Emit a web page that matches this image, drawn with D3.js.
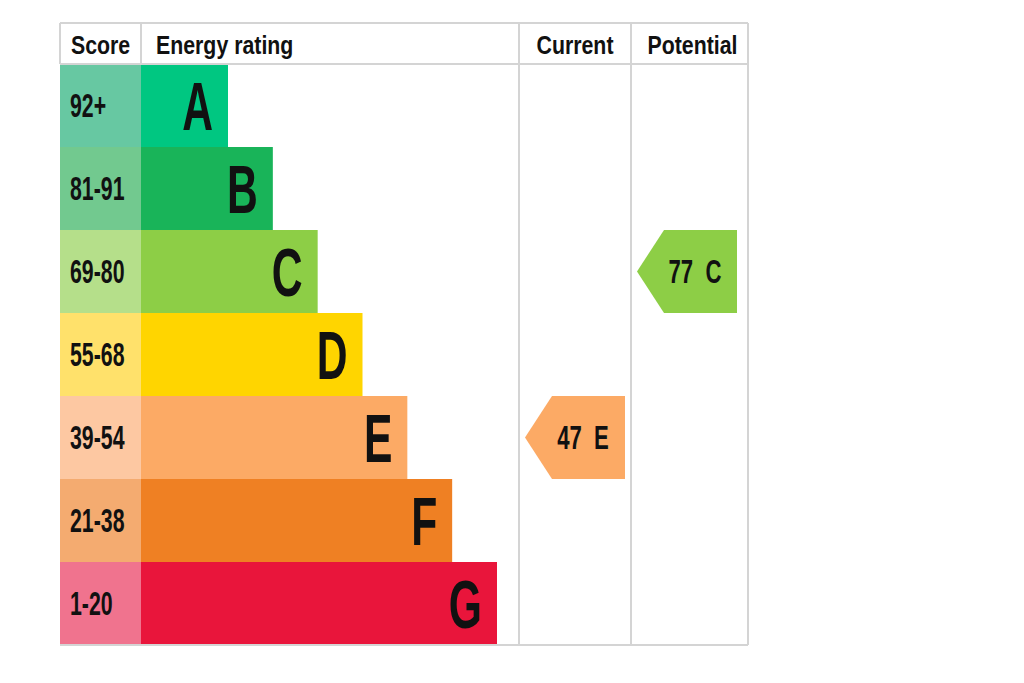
<!DOCTYPE html>
<html>
<head>
<meta charset="utf-8">
<script src="https://cdn.jsdelivr.net/npm/d3@7"></script>
<style>
    body { margin: 0; background: #fff; }
    #epc { width: 1024px; height: 683px; }
    text { font-family: "Liberation Sans", Arial, sans-serif; font-weight: bold; fill: #111; }
</style>
</head>
<body>
<div id="epc"></div>
<script>
// Bands, top to bottom
const ratings = ["A", "B", "C", "D", "E", "F", "G"];
const scoreRanges = ["92+", "81-91", "69-80", "55-68", "39-54", "21-38", "1-20"];
const bandMins = [92, 81, 69, 55, 39, 21, 1];
const headers = ["Score", "Energy rating", "Current", "Potential"];

const currentScore = 47;
const potentialScore = 77;

class EpcVis {
    constructor(_parentElement) {
        this.parentElement = _parentElement;
        this.initVis();
    }

    initVis() {
        const vis = this;

        vis.margin = { top: 23, left: 60 };
        vis.width = 688;
        vis.height = 622;
        vis.headerHeight = 41;
        vis.narrow = 0.82; // squeeze Liberation Sans to look like a narrow face

        vis.svg = d3.select(`#${vis.parentElement}`)
            .append("svg")
            .attr("width", 1024)
            .attr("height", 683)
            .append("g")
            .attr("transform", `translate(${vis.margin.left},${vis.margin.top})`);

        // column edges: score | rating bars | current | potential
        vis.cols = { score: 0, bars: 81, current: 459, potential: 571, end: vis.width };

        vis.y = d3.scaleBand()
            .domain(ratings)
            .range([vis.headerHeight, vis.height]);

        // bar length grows with band
        vis.barLen = d3.scalePoint()
            .domain(ratings)
            .range([87, 356]);

        vis.barColor = d3.scaleOrdinal()
            .domain(ratings)
            .range(["#00c781", "#19b459", "#8dce46", "#ffd500", "#fcaa65", "#ef8023", "#e9153b"]);

        vis.scoreColor = d3.scaleOrdinal()
            .domain(ratings)
            .range(["#67c8a2", "#72c98f", "#b5df8a", "#ffe16b", "#fdc8a2", "#f4ab70", "#f0738e"]);

        vis.updateVis();
    }

    bandFor(score) {
        const i = bandMins.findIndex(m => score >= m);
        return ratings[i];
    }

    updateVis() {
        const vis = this;
        const bw = vis.y.bandwidth();
        const lineColor = "#d4d4d4";
        const sx = vis.narrow;

        // score cells
        vis.svg.selectAll(".score-cell")
            .data(ratings)
            .join("rect")
            .attr("class", "score-cell")
            .attr("x", vis.cols.score)
            .attr("y", d => vis.y(d))
            .attr("width", vis.cols.bars - vis.cols.score)
            .attr("height", bw + 0.5)
            .attr("fill", d => vis.scoreColor(d));

        vis.svg.selectAll(".score-label")
            .data(ratings)
            .join("text")
            .attr("class", "score-label")
            .attr("transform", d => `translate(10,${vis.y(d) + bw / 2}) scale(${sx},1.25)`)
            .attr("dy", "0.36em")
            .style("font-size", "26px")
            .text((d, i) => scoreRanges[i]);

        // rating bars
        vis.svg.selectAll(".bar")
            .data(ratings)
            .join("rect")
            .attr("class", "bar")
            .attr("x", vis.cols.bars)
            .attr("y", d => vis.y(d))
            .attr("width", d => vis.barLen(d))
            .attr("height", bw + 0.5)
            .attr("fill", d => vis.barColor(d));

        vis.svg.selectAll(".bar-letter")
            .data(ratings)
            .join("text")
            .attr("class", "bar-letter")
            .attr("text-anchor", "end")
            .attr("transform", d => `translate(${vis.cols.bars + vis.barLen(d) - 15},${vis.y(d) + bw / 2}) scale(${sx},1.3)`)
            .attr("dy", "0.36em")
            .style("font-size", "52px")
            .text(d => d);

        // grid lines
        const hLines = [0, vis.headerHeight, vis.height];
        vis.svg.selectAll(".h-line")
            .data(hLines)
            .join("line")
            .attr("class", "h-line")
            .attr("x1", 0)
            .attr("x2", vis.width)
            .attr("y1", d => d)
            .attr("y2", d => d)
            .attr("stroke", lineColor)
            .attr("stroke-width", 2);

        const vLines = [
            { x: 0, y2: vis.headerHeight },
            { x: vis.cols.bars, y2: vis.headerHeight },
            { x: vis.cols.current, y2: vis.height },
            { x: vis.cols.potential, y2: vis.height },
            { x: vis.cols.end, y2: vis.height }
        ];
        vis.svg.selectAll(".v-line")
            .data(vLines)
            .join("line")
            .attr("class", "v-line")
            .attr("x1", d => d.x)
            .attr("x2", d => d.x)
            .attr("y1", 0)
            .attr("y2", d => d.y2)
            .attr("stroke", lineColor)
            .attr("stroke-width", 2);

        // headers
        const headerPos = [
            { x: 11, anchor: "start" },
            { x: vis.cols.bars + 15, anchor: "start" },
            { x: (vis.cols.current + vis.cols.potential) / 2, anchor: "middle" },
            { x: (vis.cols.potential + vis.cols.end) / 2 + 3, anchor: "middle" }
        ];
        vis.svg.selectAll(".header")
            .data(headers)
            .join("text")
            .attr("class", "header")
            .attr("transform", (d, i) => `translate(${headerPos[i].x},31) scale(${sx},1.02)`)
            .attr("text-anchor", (d, i) => headerPos[i].anchor)
            .style("font-size", "26px")
            .text(d => d);

        // current / potential arrows
        const arrows = [
            { score: currentScore, left: vis.cols.current + 6, right: vis.cols.potential - 6 },
            { score: potentialScore, left: vis.cols.potential + 6, right: vis.cols.end - 11 }
        ].map(a => ({ ...a, band: vis.bandFor(a.score) }));

        const tip = 27;
        vis.svg.selectAll(".arrow")
            .data(arrows)
            .join("path")
            .attr("class", "arrow")
            .attr("fill", d => vis.barColor(d.band))
            .attr("d", d => {
                const top = vis.y(d.band), bot = top + bw, mid = top + bw / 2;
                return `M${d.left},${mid}L${d.left + tip},${top}L${d.right},${top}L${d.right},${bot}L${d.left + tip},${bot}Z`;
            });

        vis.svg.selectAll(".arrow-label")
            .data(arrows)
            .join("text")
            .attr("class", "arrow-label")
            .attr("text-anchor", "middle")
            .attr("transform", d => `translate(${(d.left + d.right) / 2 + 8},${vis.y(d.band) + bw / 2}) scale(${sx},1.2)`)
            .attr("dy", "0.36em")
            .style("font-size", "27px")
            .text(d => `${d.score}\u00a0\u00a0${d.band}`);
    }
}

const epcVis = new EpcVis("epc");
</script>
</body>
</html>
